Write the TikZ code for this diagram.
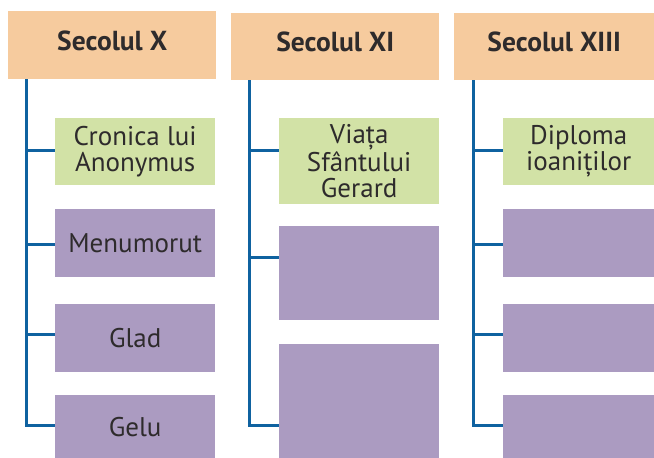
\documentclass[tikz,border=0pt]{standalone}
\usepackage{fontspec}
\setmainfont{PT Sans}
\definecolor{hdr}{HTML}{F6CB9E}
\definecolor{grn}{HTML}{D2E2A6}
\definecolor{pur}{HTML}{AB9BC1}
\definecolor{lnb}{HTML}{0F62A0}
\definecolor{txt}{HTML}{2E2B2C}
\begin{document}
\begin{tikzpicture}[x=1pt,y=-1pt,
  hbox/.style={fill=hdr,draw=none,anchor=north west,inner sep=0pt,text=txt,
    font=\fontsize{27.5}{26}\selectfont\bfseries,align=center,
    text height=20pt,text depth=10pt},
  gbox/.style={fill=grn,draw=none,anchor=north west,inner sep=0pt,text=txt,
    font=\fontsize{27}{26}\selectfont,align=center},
  pbox/.style={fill=pur,draw=none,anchor=north west,inner sep=0pt,text=txt,
    font=\fontsize{27}{26}\selectfont,align=center,text height=19pt,text depth=-3pt},
  conn/.style={draw=lnb,line width=3pt}]
\useasboundingbox (0,0) rectangle (654,458);
% column 1
\node[hbox,minimum width=208pt,minimum height=68pt] (h1) at (8,11) {Secolul X};
\node[gbox,minimum width=160pt,minimum height=67pt] (c11) at (55,118) {Cronica lui\\Anonymus};
\node[pbox,minimum width=160pt,minimum height=68pt] (c12) at (55,209) {Menumorut};
\node[pbox,minimum width=160pt,minimum height=68pt] (c13) at (55,304) {Glad};
\node[pbox,minimum width=160pt,minimum height=63pt] (c14) at (55,395) {Gelu};
% column 2
\node[hbox,minimum width=208pt,minimum height=67pt] (h2) at (231,13) {Secolul XI};
\node[gbox,minimum width=160pt,minimum height=86pt] (c21) at (279,118) {Viața\\Sfântului\\Gerard};
\node[pbox,minimum width=160pt,minimum height=94pt] (c22) at (279,226) {};
\node[pbox,minimum width=160pt,minimum height=114pt] (c23) at (279,344) {};
% column 3
\node[hbox,minimum width=200pt,minimum height=67pt] (h3) at (454,13) {Secolul XIII};
\node[gbox,minimum width=151pt,minimum height=67pt] (c31) at (503,118) {Diploma\\ioaniților};
\node[pbox,minimum width=151pt,minimum height=68pt] (c32) at (503,209) {};
\node[pbox,minimum width=151pt,minimum height=68pt] (c33) at (503,304) {};
\node[pbox,minimum width=151pt,minimum height=63pt] (c34) at (503,395) {};
% trunk coordinates
\coordinate (t1) at (26,79);
\coordinate (t2) at (249,80);
\coordinate (t3) at (473,80);
\coordinate (k11) at (26,150);
\coordinate (k12) at (26,244);
\coordinate (k13) at (26,334);
\coordinate (k14) at (26,425);
\coordinate (k21) at (249,150);
\coordinate (k22) at (249,257);
\coordinate (k23) at (249,425);
\coordinate (k31) at (473,150);
\coordinate (k32) at (473,244);
\coordinate (k33) at (473,334);
\coordinate (k34) at (473,425);
% connectors
\draw[conn] (t1) -- (k14) -- (k14 -| c14.west);
\draw[conn] (k11) -- (k11 -| c11.west);
\draw[conn] (k12) -- (k12 -| c12.west);
\draw[conn] (k13) -- (k13 -| c13.west);
\draw[conn] (t2) -- (k23) -- (k23 -| c23.west);
\draw[conn] (k21) -- (k21 -| c21.west);
\draw[conn] (k22) -- (k22 -| c22.west);
\draw[conn] (t3) -- (k34) -- (k34 -| c34.west);
\draw[conn] (k31) -- (k31 -| c31.west);
\draw[conn] (k32) -- (k32 -| c32.west);
\draw[conn] (k33) -- (k33 -| c33.west);
\end{tikzpicture}
\end{document}
